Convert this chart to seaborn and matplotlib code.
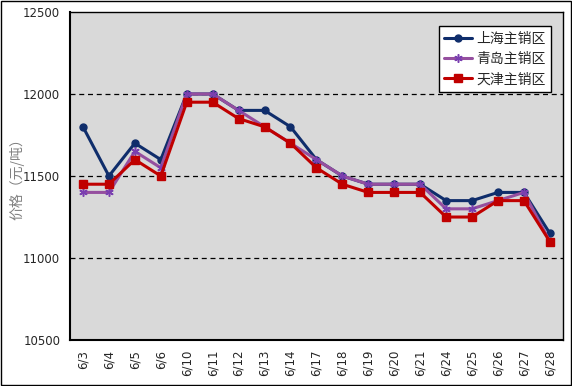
import numpy as np
import pandas as pd
import matplotlib
matplotlib.use("Agg")
import matplotlib.pyplot as plt
import seaborn as sns
from matplotlib.patches import Rectangle

# ── Data ──────────────────────────────────────────────────────────────────────

dates = ["6/3", "6/4", "6/5", "6/6", "6/10", "6/11", "6/12", "6/13", "6/14",
         "6/17", "6/18", "6/19", "6/20", "6/21", "6/24", "6/25", "6/26",
         "6/27", "6/28"]
shanghai = [11800, 11500, 11700, 11600, 12000, 12000, 11900, 11900, 11800,
            11600, 11500, 11450, 11450, 11450, 11350, 11350, 11400, 11400, 11150]
qingdao = [11400, 11400, 11650, 11550, 12000, 12000, 11900, 11800, 11700,
           11600, 11500, 11450, 11450, 11450, 11300, 11300, 11350, 11400, 11100]
tianjin = [11450, 11450, 11600, 11500, 11950, 11950, 11850, 11800, 11700,
           11550, 11450, 11400, 11400, 11400, 11250, 11250, 11350, 11350, 11100]
series_names = ["上海主销区", "青岛主销区", "天津主销区"]
y_ticks = [10500, 11000, 11500, 12000, 12500]

# ── Style ─────────────────────────────────────────────────────────────────────

sns.set_style("white")
plt.rcParams["font.family"] = ["Noto Sans CJK SC", "DejaVu Sans"]

styles = [
    dict(color="#0F2D6B", marker="o", markersize=5, mec="#0F2D6B", mew=1),
    dict(color="#954F9F", marker=(6, 2, 0), markersize=6, mec="#7A3FB0", mew=1.1),
    dict(color="#C00000", marker="s", markersize=5.5, mec="#C00000", mew=1),
]

fig = plt.figure(figsize=(5.72, 3.86), dpi=100)
ax = fig.add_axes([0.1224, 0.119, 0.8616, 0.850])
ax.set_facecolor("#D9D9D9")

x = np.arange(len(dates))
for name, vals, st in zip(series_names, [shanghai, qingdao, tianjin], styles):
    sns.lineplot(x=x, y=vals, ax=ax, label=name, linewidth=2.2,
                 color=st["color"], marker=st["marker"],
                 markersize=st["markersize"], markeredgecolor=st["mec"],
                 markeredgewidth=st["mew"])

ax.set_xlim(-0.5, len(dates) - 0.5)
ax.set_ylim(10500, 12500)
ax.set_yticks(y_ticks)
ax.set_yticklabels([str(v) for v in y_ticks], fontsize=8.5, family="DejaVu Sans")
ax.set_xticks(x)
ax.set_xticklabels(dates, rotation=90, fontsize=8.5, family="DejaVu Sans")
ax.set_xticks(np.arange(len(dates) + 1) - 0.5, minor=True)
ax.tick_params(axis="x", which="major", length=0, pad=7)
ax.tick_params(axis="x", which="minor", length=5, direction="in", width=1)
ax.tick_params(axis="y", length=0, pad=7)

for v in [11000, 11500, 12000]:
    ax.axhline(v, color="black", linestyle=(0, (4, 3)), linewidth=0.9, zorder=1)

for side in ["left", "bottom"]:
    ax.spines[side].set_linewidth(1.5)
    ax.spines[side].set_color("black")
for side in ["top", "right"]:
    ax.spines[side].set_linewidth(1)
    ax.spines[side].set_color("black")

ax.set_ylabel("价格（元/吨）", fontsize=10, color="#7F7F7F")
ax.yaxis.set_label_coords(-0.092, 0.5)
ax.set_xlabel("")

leg = ax.legend(loc="upper right", fontsize=10, frameon=True, fancybox=False,
                edgecolor="black", framealpha=1, handlelength=2.0,
                handletextpad=0.3, borderpad=0.4, labelspacing=0.45,
                bbox_to_anchor=(0.99, 0.978))
leg.get_frame().set_linewidth(1)

fig.patches.append(Rectangle((0.002, 0.003), 0.996, 0.994, transform=fig.transFigure,
                             fill=False, edgecolor="black", linewidth=1))

fig.savefig("out.png", dpi=100)
